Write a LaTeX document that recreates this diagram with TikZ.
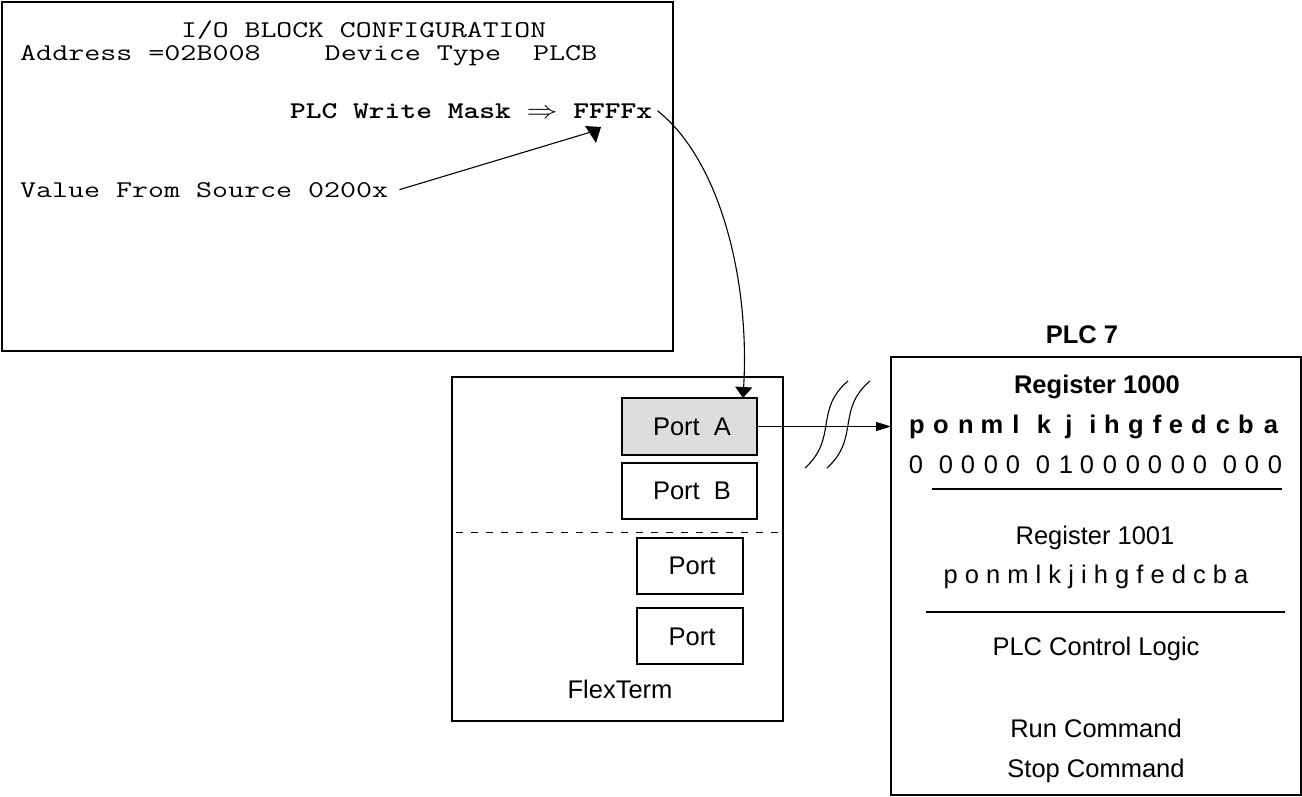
\documentclass[tikz,border=0pt]{standalone}
\usepackage{fontspec}
\setsansfont{Liberation Sans}
\usetikzlibrary{arrows.meta}

% monospaced screen text, stretched to a given width
\newcommand\monotext[2]{\resizebox{#1}{\height}{\ttfamily\fontsize{24}{28}\selectfont #2}}

\definecolor{portgray}{RGB}{221,221,221}

\tikzset{
  frame/.style={draw, line width=2pt, inner sep=0pt, outer sep=0pt, anchor=north west},
  portbox/.style={draw, line width=1.4pt, inner sep=0pt, outer sep=0pt, anchor=north west},
  mono/.style={inner sep=0pt, anchor=base west},
  lbl/.style={inner sep=0pt, anchor=base, font=\sffamily\fontsize{25.5}{30}\selectfont},
  lblbold/.style={lbl, font=\sffamily\bfseries\fontsize{25.5}{30}\selectfont},
  wire/.style={line width=1.1pt},
  rule/.style={line width=1.3pt},
}

\begin{document}
\begin{tikzpicture}[x=1pt,y=-1pt]
\useasboundingbox (0,0) rectangle (1302,796);

% ---- I/O block configuration screen ----
\node[frame, minimum width=671pt, minimum height=349pt] (cfg) at (2,2) {};
\node[mono] (title) at (181,37) {\monotext{365pt}{I/O BLOCK CONFIGURATION}};
\node[mono] (addr) at (20,60) {\monotext{577pt}{Address =02B008~~~~Device Type~~PLCB}};
\node[mono] (mask) at (290,118) {\monotext{362pt}{\bfseries PLC Write Mask $\Rightarrow$ FFFFx}};
\node[mono] (val) at (20,197) {\monotext{368pt}{Value From Source 0200x}};

% value pointer into the mask
\coordinate (valend) at ([xshift=11pt]val.east);
\coordinate (maskhead) at (591,132);
\draw[wire] (valend) -- (maskhead);
\fill (585,126) -- (601,127) -- (596,143) -- cycle;

% ---- FlexTerm ----
\node[frame, minimum width=331pt, minimum height=344pt] (flex) at (452,377) {};
\node[portbox, fill=portgray, minimum width=135pt, minimum height=57pt] (porta) at (622,398) {};
\node[lbl] (portatxt) at (692,435) {Port\ \ A};
\node[portbox, minimum width=135pt, minimum height=56pt] (portb) at (622,463) {};
\node[lbl] (portbtxt) at (692,499) {Port\ \ B};
\draw[line width=1pt, dash pattern=on 7pt off 8pt] (456,532) -- (778,532);
\node[portbox, minimum width=106pt, minimum height=56pt] (portc) at (637,538) {};
\node[lbl] (portctxt) at (692,574) {Port};
\node[portbox, minimum width=106pt, minimum height=56pt] (portd) at (637,608) {};
\node[lbl] (portdtxt) at (692,645) {Port};
\node[lbl] (flextxt) at (620,698) {FlexTerm};

% mask carried down to port A
\coordinate (maskout) at ([xshift=5pt]mask.east);
\coordinate (portin) at ([xshift=-14pt]porta.north east);
\draw[wire, -{Triangle[length=11pt,width=17pt]}] (maskout) .. controls (720,160) and (750,280) .. (portin);

% ---- PLC 7 ----
\node[frame, minimum width=410pt, minimum height=438pt] (plc) at (891,357) {};
\node[lblbold] (plcname) at (1082,343) {PLC 7};
\node[lblbold] (reg0) at (1097,393) {Register 1000};
\foreach \x/\c [count=\i] in {917/p,941/o,966/n,992/m,1016/l,1044/k,1069/j,1093/i,
    1112/h,1136/g,1157/f,1176/e,1199/d,1223/c,1246/b,1271/a}
  \node[lblbold] (bitname\i) at (\x,433) {\c};
\foreach \x/\c [count=\i] in {916/0,946/0,968/0,991/0,1013/0,1043/0,1066/1,1087/0,
    1110/0,1133/0,1155/0,1178/0,1200/0,1230/0,1252/0,1275/0}
  \node[lbl] (bitval\i) at (\x,473) {\c};
\draw[rule] (932,489) -- (1282,489);
\node[lbl] (reg1) at (1095,544) {Register 1001};
\node[lbl] (reg1bits) at (1096,583) {p\ o\ n\ m\ l\ k\ j\ i\ h\ g\ f\ e\ d\ c\ b\ a};
\draw[rule] (926,612) -- (1285,612);
\node[lbl] (logic) at (1096,655) {PLC Control Logic};
\node[lbl] (runcmd) at (1096,737) {Run Command};
\node[lbl] (stopcmd) at (1096,777) {Stop Command};

% port A link to the PLC, with break marks
\draw[wire, -{Triangle[length=15pt,width=9pt]}] (porta.east) -- (porta.east -| plc.west);
\draw[wire] (805,468) .. controls (838,438) and (814,410) .. (848,381);
\draw[wire] (827,468) .. controls (860,438) and (836,410) .. (870,381);
\end{tikzpicture}
\end{document}
